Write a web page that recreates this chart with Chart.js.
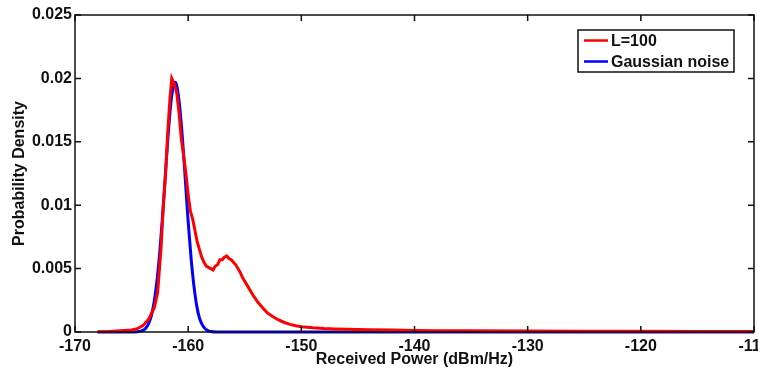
<!DOCTYPE html>
<html>
<head>
<meta charset="utf-8">
<script src="https://cdn.jsdelivr.net/npm/chart.js@4.4.1/dist/chart.umd.min.js"></script>
<style>
  html, body { margin: 0; padding: 0; background: #fff; }
  #wrap { width: 758px; height: 370px; }
</style>
</head>
<body>
<div id="wrap"><canvas id="chart" width="758" height="370"></canvas></div>
<script>
// x ticks and y ticks
var xTicks = [-170, -160, -150, -140, -130, -120, -110];
var yTicks = [0, 0.005, 0.01, 0.015, 0.02, 0.025];

// L=100 (red)
var redX = [-168, -167, -166, -165, -164.5, -164, -163.5, -163, -162.7, -162.4, -162.2, -162.0, -161.8, -161.6,
  -161.45, -161.35, -161.2, -161.0, -160.8, -160.6, -160.4, -160.2, -160.0, -159.8, -159.6, -159.4, -159.2,
  -159.0, -158.8, -158.6, -158.4, -158.2, -158.0, -157.8, -157.6, -157.4, -157.2, -157.0, -156.8, -156.6,
  -156.4, -156.2, -156.0, -155.8, -155.6, -155.4, -155.2, -155.0, -154.6, -154.2, -153.8, -153.4, -153.0,
  -152.5, -152.0, -151.5, -151.0, -150.5, -150.0, -149.0, -148.0, -147.0, -146.0, -145.0, -144.0, -142.0,
  -140.0, -138.0, -135.0, -130.0, -125.0, -120.0, -115.0, -110.0];
var redY = [0.00002, 0.00004, 0.0001, 0.00016, 0.00026, 0.0005, 0.001, 0.0019, 0.0031, 0.0066, 0.0099, 0.0124,
  0.0158, 0.0185, 0.0200, 0.0198, 0.0195, 0.0188, 0.0172, 0.0152, 0.0139, 0.0125, 0.0108, 0.0095, 0.0089,
  0.0080, 0.0071, 0.0065, 0.0059, 0.0055, 0.0052, 0.0051, 0.0050, 0.0049, 0.0052, 0.0053, 0.0057, 0.0057,
  0.0059, 0.0060, 0.0058, 0.0057, 0.0055, 0.0053, 0.0050, 0.0047, 0.0043, 0.0040, 0.0034, 0.0028, 0.0023,
  0.0019, 0.0015, 0.0012, 0.00095, 0.00075, 0.0006, 0.0005, 0.00042, 0.00033, 0.00027, 0.00024, 0.00021,
  0.00019, 0.00017, 0.00015, 0.00012, 0.0001, 0.00009, 0.00007, 0.00006, 0.00005, 0.00004, 0.00004];

// Gaussian noise (blue)
var blueX = [-168, -166, -165, -164.5, -164, -163.75, -163.5, -163.25, -163, -162.75, -162.5, -162.25, -162,
  -161.75, -161.5, -161.25, -161.15, -161, -160.75, -160.5, -160.25, -160, -159.75, -159.5, -159.25, -159,
  -158.75, -158.5, -158.25, -158, -157.5, -150, -140, -130, -120, -110];
var blueY = [0, 0, 0, 0.00002, 0.00013, 0.0003, 0.00065, 0.0013, 0.0024, 0.0041, 0.0064, 0.0093, 0.0126,
  0.0158, 0.0183, 0.0196, 0.0197, 0.0194, 0.0178, 0.0152, 0.0120, 0.0087, 0.0059, 0.0037, 0.0021, 0.0011,
  0.00056, 0.00026, 0.00011, 0.00004, 0, 0, 0, 0, 0, 0];

var labels = ["L=100", "Gaussian noise"];

function pts(xs, ys) {
  return xs.map(function (x, i) { return { x: x, y: ys[i] }; });
}

var FONT = { family: "'Liberation Sans', Arial, sans-serif", size: 16, weight: 'bold' };
var INK = '#111';

// matlab style box with inward ticks + legend box
var matlabBox = {
  id: 'matlabBox',
  afterDraw: function (chart) {
    var ctx = chart.ctx, a = chart.chartArea;
    var xs = chart.scales.x, ys = chart.scales.y;
    ctx.save();
    ctx.strokeStyle = INK;
    ctx.lineWidth = 1.5;
    ctx.strokeRect(a.left, a.top, a.right - a.left, a.bottom - a.top);
    ctx.beginPath();
    xTicks.forEach(function (v) {
      var px = xs.getPixelForValue(v);
      ctx.moveTo(px, a.bottom); ctx.lineTo(px, a.bottom - 6);
      ctx.moveTo(px, a.top); ctx.lineTo(px, a.top + 6);
    });
    yTicks.forEach(function (v) {
      var py = ys.getPixelForValue(v);
      ctx.moveTo(a.left, py); ctx.lineTo(a.left + 6, py);
      ctx.moveTo(a.right, py); ctx.lineTo(a.right - 6, py);
    });
    ctx.stroke();

    // legend
    var bx = 578, by = 30, bw = 156, bh = 42;
    ctx.fillStyle = '#fff';
    ctx.fillRect(bx, by, bw, bh);
    ctx.lineWidth = 1.5;
    ctx.strokeRect(bx, by, bw, bh);
    ctx.font = 'bold 16px ' + FONT.family;
    ctx.textBaseline = 'middle';
    chart.data.datasets.forEach(function (ds, i) {
      var y = by + 10.5 + i * 21;
      ctx.strokeStyle = ds.borderColor;
      ctx.lineWidth = 2.5;
      ctx.beginPath();
      ctx.moveTo(bx + 6, y); ctx.lineTo(bx + 30, y);
      ctx.stroke();
      ctx.fillStyle = INK;
      ctx.fillText(ds.label, bx + 33, y + 1);
    });
    ctx.restore();
  }
};

new Chart(document.getElementById('chart'), {
  type: 'line',
  data: {
    datasets: [
      { label: labels[0], data: pts(redX, redY), borderColor: '#ff0000', borderWidth: 3, pointRadius: 0, tension: 0, clip: 4 },
      { label: labels[1], data: pts(blueX, blueY), borderColor: '#0000ff', borderWidth: 3, pointRadius: 0, cubicInterpolationMode: 'monotone', clip: 4 }
    ]
  },
  options: {
    responsive: false,
    animation: false,
    layout: { padding: { top: 15, right: 4, left: 0, bottom: 0 } },
    plugins: { legend: { display: false }, tooltip: { enabled: false } },
    scales: {
      x: {
        type: 'linear', min: -170, max: -110,
        grid: { display: false, drawTicks: false },
        border: { display: false },
        afterBuildTicks: function (s) { s.ticks = xTicks.map(function (v) { return { value: v }; }); },
        afterFit: function (s) { s.height = 38; s.paddingLeft = 0; s.paddingRight = 0; },
        ticks: { autoSkip: false, maxRotation: 0, padding: 5, color: INK, font: FONT },
        title: { display: true, text: 'Received Power (dBm/Hz)', color: INK, font: FONT, padding: { top: 0, bottom: 1 } }
      },
      y: {
        min: 0, max: 0.025,
        grid: { display: false, drawTicks: false },
        border: { display: false },
        afterBuildTicks: function (s) { s.ticks = yTicks.map(function (v) { return { value: v }; }); },
        afterFit: function (s) { s.width = 75; s.paddingTop = 0; s.paddingBottom = 0; },
        ticks: {
          padding: 3, color: INK, font: FONT,
          callback: function (v) { return String(+v.toFixed(3)); }
        },
        title: { display: true, text: 'Probability Density', color: INK, font: FONT, padding: { top: 10, bottom: 0 } }
      }
    }
  },
  plugins: [matlabBox]
});
</script>
</body>
</html>
